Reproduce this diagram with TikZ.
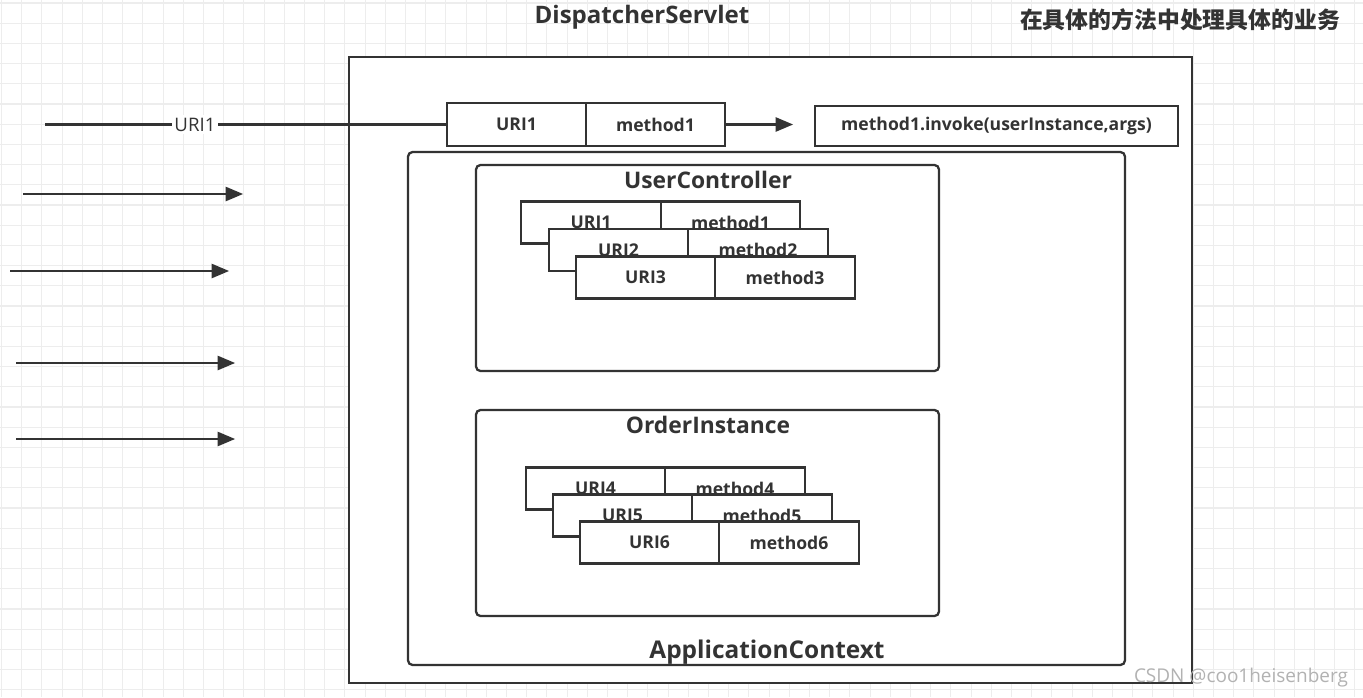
\documentclass[tikz,border=0pt]{standalone}
\usepackage{fontspec}
\setmainfont{Open Sans}
\newfontfamily\cjk{Noto Sans CJK SC}
\usepackage{xcolor}
\usetikzlibrary{positioning, arrows}
\definecolor{ink}{HTML}{333333}
\definecolor{gridminor}{HTML}{EDEDED}
\tikzset{
    >=triangle 45, % solid arrow heads
    frame/.style={draw=ink, line width=1.5pt, fill=white}, % plain outer box
    panel/.style={draw=ink, line width=1.3pt, fill=white, rounded corners=2.5pt}, % rounded containers
    cell/.style={draw=ink, line width=1.3pt, fill=white, inner sep=0pt, outer sep=0pt,
        minimum width=2.79cm, minimum height=0.84cm, text=ink, font=\bfseries\fontsize{10}{12}\selectfont},
    heading/.style={text=ink, font=\bfseries\fontsize{13.7}{16}\selectfont},
    wire/.style={draw=ink, line width=1.3pt},
}
\tikzstyle{arrow} = [wire, ->]

\begin{document}
\begin{tikzpicture}[x=0.02cm, y=-0.02cm]
    \useasboundingbox (0,0) rectangle (1363,697);
    \fill[white] (0,0) rectangle (1363,697);

    % background grid
    \foreach \i in {0,...,67} {
        \draw[gridminor, line width=0.6pt] ({1.5+20.2*\i},0) -- ({1.5+20.2*\i},697);
    }
    \foreach \i in {0,...,34} {
        \draw[gridminor, line width=0.6pt] (0,{3+20.2*\i}) -- (1363,{3+20.2*\i});
    }

    % containers
    \node[frame, minimum width=16.86cm, minimum height=12.52cm] (servlet) at (770.5,370) {};
    \node[heading] (servletTitle) at (642,17) {DispatcherServlet};
    \node[panel, minimum width=14.34cm, minimum height=10.26cm] (context) at (766.5,408.5) {};
    \node[heading, font=\bfseries\fontsize{13.9}{16}\selectfont] (contextTitle) at (767,652) {ApplicationContext};
    \node[panel, minimum width=9.26cm, minimum height=4.12cm] (user) at (707.5,268) {};
    \node[heading, font=\bfseries\fontsize{13}{15}\selectfont] (userTitle) at (708,180) {UserController};
    \node[panel, minimum width=9.26cm, minimum height=4.12cm] (order) at (707.5,513) {};
    \node[heading, font=\bfseries\fontsize{13}{15}\selectfont] (orderTitle) at (708,425) {OrderInstance};

    \node[text=ink, font=\cjk\bfseries\fontsize{13}{15}\selectfont] (note) at (1180,20) {在具体的方法中处理具体的业务};

    % matched mapping
    \node[cell, minimum width=2.78cm, minimum height=0.86cm] (uri) at (516.5,124.5) {URI1};
    \node[cell, minimum width=2.78cm, minimum height=0.86cm, right=0pt of uri] (meth) {method1};
    \node[cell, minimum width=7.26cm, minimum height=0.8cm] (invoke) at (996.5,126) {method1.invoke(userInstance,args)};
    \coordinate (req) at (45,124.5);
    \coordinate (hit) at (793,124.5);
    \draw[wire] (req) -- node[pos=0.373, fill=white, inner sep=1.5pt, text=ink, font=\fontsize{10.6}{12}\selectfont] (reqLabel) {URI1} (uri.west);
    \draw[arrow] (meth.east) -- (hit);

    % UserController mappings
    \node[cell] (uriA) at (591,222.5) {URI1};
    \node[cell, right=0pt of uriA] (methA) {method1};
    \node[cell] (uriB) at (618.5,250) {URI2};
    \node[cell, right=0pt of uriB] (methB) {method2};
    \node[cell] (uriC) at (645.5,277.5) {URI3};
    \node[cell, right=0pt of uriC] (methC) {method3};

    % OrderInstance mappings
    \node[cell] (uriD) at (595.5,488.5) {URI4};
    \node[cell, right=0pt of uriD] (methD) {method4};
    \node[cell] (uriE) at (622.5,515.5) {URI5};
    \node[cell, right=0pt of uriE] (methE) {method5};
    \node[cell] (uriF) at (649.5,542.5) {URI6};
    \node[cell, right=0pt of uriF] (methF) {method6};

    % incoming requests
    \coordinate (inA) at (23,194);  \coordinate (outA) at (243,194);
    \coordinate (inB) at (10,271);  \coordinate (outB) at (229,271);
    \coordinate (inC) at (16,363);  \coordinate (outC) at (235,363);
    \coordinate (inD) at (16,439);  \coordinate (outD) at (235,439);
    \draw[arrow] (inA) -- (outA);
    \draw[arrow] (inB) -- (outB);
    \draw[arrow] (inC) -- (outC);
    \draw[arrow] (inD) -- (outD);

    \node[text=gray!60, font=\fontsize{10.8}{12}\selectfont] (mark) at (1241,678) {CSDN @coo1heisenberg};
\end{tikzpicture}
\end{document}
